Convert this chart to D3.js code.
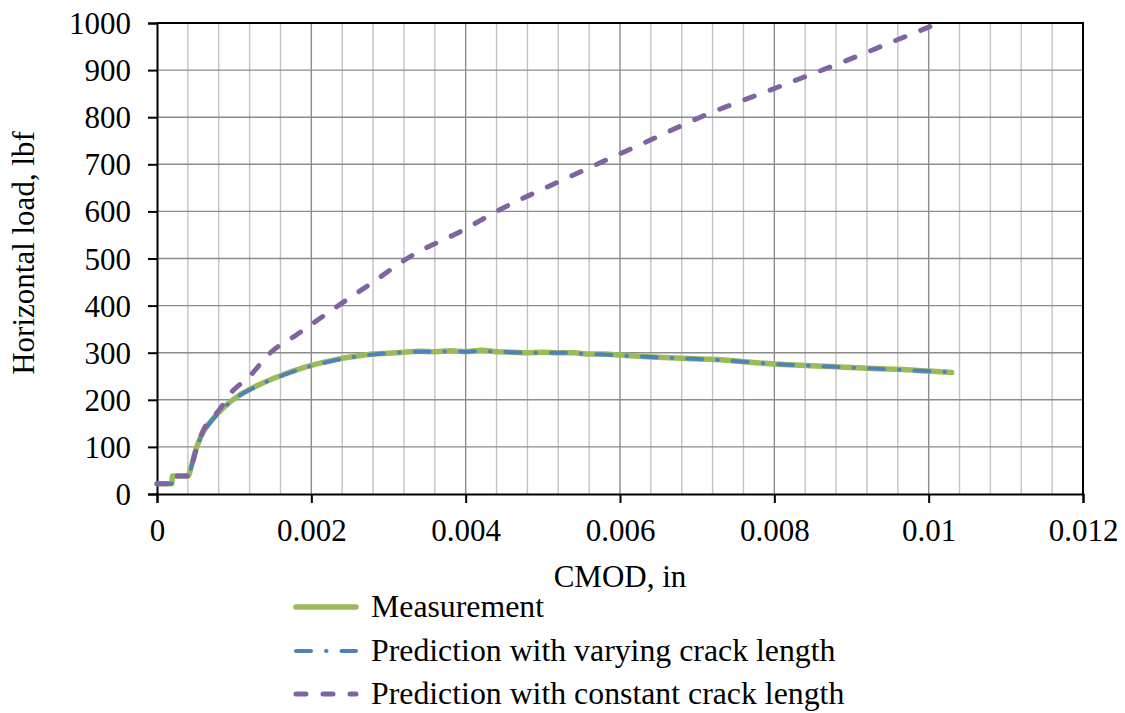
<!DOCTYPE html>
<html>
<head>
<meta charset="utf-8">
<script src="https://cdn.jsdelivr.net/npm/d3@7"></script>
<style>
  body { margin: 0; background: #fff; }
  text { font-family: "Liberation Serif", "Times New Roman", serif; fill: #000; }
</style>
</head>
<body>
<script>
// CMOD (in) and horizontal load (lbf)
const cmodMeasured = [0, 0.00019, 0.0002, 0.0004, 0.00045, 0.0005, 0.00055, 0.0006, 0.0007, 0.0008, 0.0009, 0.001, 0.0011, 0.0012, 0.0014, 0.0016, 0.0018, 0.002, 0.0022, 0.0024, 0.0026, 0.0028, 0.003, 0.0032, 0.0034, 0.0036, 0.0038, 0.004, 0.0042, 0.0044, 0.0046, 0.0048, 0.005, 0.0052, 0.0054, 0.0056, 0.0058, 0.006, 0.0064, 0.0068, 0.0072, 0.0076, 0.008, 0.0084, 0.0088, 0.0092, 0.0096, 0.01, 0.0103];
const loadMeasured = [22, 22, 38, 38, 62, 92, 115, 132, 155, 173, 189, 202, 213, 222, 238, 251, 263, 273, 281, 288, 293, 297, 299, 301, 303, 302, 304, 302, 305, 302, 301, 300, 301, 300, 300, 297, 297, 295, 291, 288, 286, 281, 276, 273, 270, 267, 265, 261, 258];

const cmodVarying = [0, 0.00019, 0.0002, 0.0004, 0.00045, 0.0005, 0.00055, 0.0006, 0.0007, 0.0008, 0.0009, 0.001, 0.0011, 0.0012, 0.0014, 0.0016, 0.0018, 0.002, 0.0022, 0.0024, 0.0026, 0.0028, 0.003, 0.0032, 0.0034, 0.0036, 0.0038, 0.004, 0.0042, 0.0044, 0.0046, 0.0048, 0.005, 0.0052, 0.0054, 0.0056, 0.0058, 0.006, 0.0064, 0.0068, 0.0072, 0.0076, 0.008, 0.0084, 0.0088, 0.0092, 0.0096, 0.01, 0.0103];
const loadVarying = [22, 22, 38, 38, 60, 89, 113, 130, 154, 172, 188, 201, 212, 221, 237, 250, 262, 272, 280, 287, 292, 296, 299, 301, 302, 302, 303, 302, 304, 302, 301, 300, 300, 300, 299, 297, 296, 294, 291, 288, 285, 281, 276, 273, 270, 267, 264, 261, 259];

const cmodConstant = [0, 0.00019, 0.0002, 0.0004, 0.0005, 0.0006, 0.0007, 0.0008, 0.00095, 0.0012, 0.00147, 0.0018, 0.002, 0.00235, 0.0028, 0.00324, 0.004, 0.0044, 0.0051, 0.0057, 0.0064, 0.00704, 0.008, 0.0089, 0.0095, 0.0101];
const loadConstant = [22, 22, 38, 38, 90, 135, 160, 177, 213, 250, 300, 337, 360, 400, 450, 500, 563, 600, 655, 700, 752, 800, 861, 918, 958, 998];

const xTicks = [0, 0.002, 0.004, 0.006, 0.008, 0.01, 0.012];
const yTicks = [0, 100, 200, 300, 400, 500, 600, 700, 800, 900, 1000];
const seriesNames = ["Measurement", "Prediction with varying crack length", "Prediction with constant crack length"];

const width = 1125, height = 713;
const margin = { top: 23, right: 42, bottom: 219, left: 157 };
const fontSize = "31px";

const svg = d3.select("body").append("svg")
    .attr("width", width)
    .attr("height", height);

const x = d3.scaleLinear().domain([0, 0.012]).range([margin.left, width - margin.right]);
const y = d3.scaleLinear().domain([0, 1000]).range([height - margin.bottom, margin.top]);

// minor vertical grid
const minorX = d3.range(0, 0.01201, 0.0004).filter(v => Math.abs(v / 0.002 - Math.round(v / 0.002)) > 1e-6);
svg.append("g").selectAll("line")
    .data(minorX)
    .enter().append("line")
    .attr("x1", d => x(d)).attr("x2", d => x(d))
    .attr("y1", y(0)).attr("y2", y(1000))
    .attr("stroke", "#c3c3c3")
    .attr("stroke-width", 1.4);

// major grid
svg.append("g").selectAll("line")
    .data(xTicks.slice(1, -1))
    .enter().append("line")
    .attr("x1", d => x(d)).attr("x2", d => x(d))
    .attr("y1", y(0)).attr("y2", y(1000))
    .attr("stroke", "#8c8c8c")
    .attr("stroke-width", 1.4);
svg.append("g").selectAll("line")
    .data(yTicks.slice(1, -1))
    .enter().append("line")
    .attr("x1", x(0)).attr("x2", x(0.012))
    .attr("y1", d => y(d)).attr("y2", d => y(d))
    .attr("stroke", "#8c8c8c")
    .attr("stroke-width", 1.4);

// plot border top/right
svg.append("path")
    .attr("d", `M${x(0)},${y(1000)}H${x(0.012)}V${y(0)}`)
    .attr("fill", "none")
    .attr("stroke", "#000")
    .attr("stroke-width", 2);

// axes
const xAxis = svg.append("g")
    .attr("transform", `translate(0,${y(0)})`)
    .call(d3.axisBottom(x).tickValues(xTicks).tickSize(9).tickPadding(16)
        .tickFormat(d => d === 0 ? "0" : String(+d.toFixed(3))));
const yAxis = svg.append("g")
    .attr("transform", `translate(${x(0)},0)`)
    .call(d3.axisLeft(y).tickValues(yTicks).tickSize(9).tickPadding(17).tickFormat(d3.format("d")));

[xAxis, yAxis].forEach(g => {
    g.select(".domain").attr("stroke", "#000").attr("stroke-width", 2);
    g.selectAll(".tick line").attr("stroke", "#000").attr("stroke-width", 2);
    g.selectAll(".tick text").style("font-size", fontSize).style("font-family", "Liberation Serif");
});
yAxis.selectAll(".tick text").attr("dy", "0.34em");
xAxis.selectAll(".tick text").attr("dy", "0.71em");

// axis titles
svg.append("text")
    .attr("x", (x(0) + x(0.012)) / 2)
    .attr("y", 587)
    .attr("text-anchor", "middle")
    .style("font-size", fontSize)
    .text("CMOD, in");
svg.append("text")
    .attr("transform", `translate(34,253) rotate(-90)`)
    .attr("text-anchor", "middle")
    .style("font-size", fontSize)
    .text("Horizontal load, lbf");

// series
const line = d3.line().curve(d3.curveMonotoneX).x(d => x(d[0])).y(d => y(d[1]));
const series = [
    { pts: d3.zip(cmodMeasured, loadMeasured), color: "#9bbb59", w: 5.5, dash: null },
    { pts: d3.zip(cmodVarying, loadVarying), color: "#4f81bd", w: 4, dash: "15,15,0.5,15" },
    { pts: d3.zip(cmodConstant, loadConstant), color: "#8064a2", w: 5, dash: "10,17" }
];

svg.append("g").selectAll("path")
    .data(series)
    .enter().append("path")
    .attr("d", d => line(d.pts))
    .attr("fill", "none")
    .attr("stroke", d => d.color)
    .attr("stroke-width", d => d.w)
    .attr("stroke-linecap", "round")
    .attr("stroke-linejoin", "round")
    .attr("stroke-dasharray", d => d.dash);

// legend
const legendY = [607, 651, 694];
const legend = svg.append("g").selectAll("g")
    .data(series)
    .enter().append("g")
    .attr("transform", (d, i) => `translate(0,${legendY[i]})`);
legend.append("line")
    .attr("x1", 296).attr("x2", 356)
    .attr("y1", 0).attr("y2", 0)
    .attr("stroke", d => d.color)
    .attr("stroke-width", d => d.w)
    .attr("stroke-linecap", "round")
    .attr("stroke-dasharray", d => d.dash);
legend.append("text")
    .attr("x", 371)
    .attr("y", 10)
    .style("font-size", "31.8px")
    .text((d, i) => seriesNames[i]);
</script>
</body>
</html>
